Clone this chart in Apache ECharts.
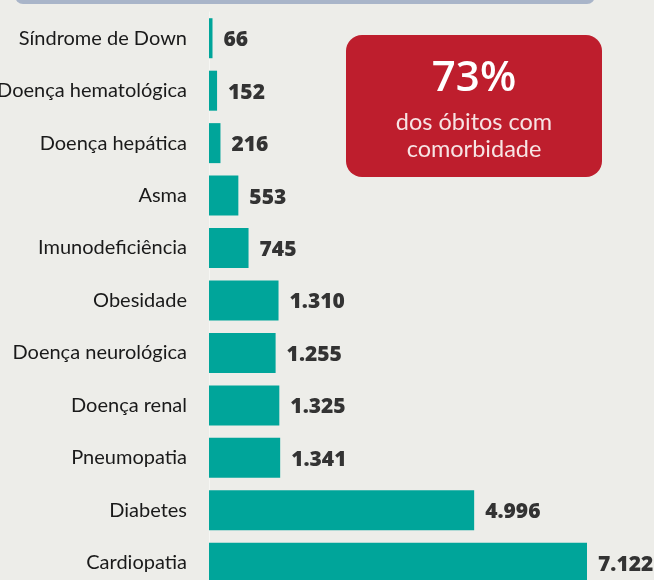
<!DOCTYPE html>
<html>
<head>
<meta charset="utf-8">
<script src="https://cdn.jsdelivr.net/npm/echarts@6/dist/echarts.min.js"></script>
<style>
  html, body { margin: 0; padding: 0; background: #edede9; }
  #chart { width: 654px; height: 580px; }
</style>
</head>
<body>
<div id="chart"></div>
<script>
// comorbidades nos óbitos, de cima para baixo
var categorias = ['Síndrome de Down', 'Doença hematológica', 'Doença hepática', 'Asma',
    'Imunodeficiência', 'Obesidade', 'Doença neurológica', 'Doença renal',
    'Pneumopatia', 'Diabetes', 'Cardiopatia'];
var obitos = [66, 152, 216, 553, 745, 1310, 1255, 1325, 1341, 4996, 7122];
var destaqueValor = '73%';
var destaqueTexto = 'dos óbitos com\ncomorbidade';

// formato brasileiro: 1.310
function formataNum(v) {
    return String(v).replace(/\B(?=(\d{3})+(?!\d))/g, '.');
}

var myChart = echarts.init(document.getElementById('chart'));

var option = {
    backgroundColor: '#edede9',
    animation: false,
    grid: {
        left: 209,
        top: 12,
        width: 378,
        height: 577,
        outerBoundsMode: 'none'
    },
    xAxis: {
        type: 'value',
        min: 0,
        max: 7122,
        show: false
    },
    yAxis: {
        type: 'category',
        inverse: true,
        data: categorias,
        axisLine: { show: true, lineStyle: { color: '#f6f6f3', width: 1 } },
        axisTick: { show: false },
        axisLabel: {
            margin: 22,
            color: '#1a1a1a',
            fontSize: 20,
            padding: [3, 0, 0, 0],
            fontFamily: 'Lato, "Open Sans", sans-serif'
        }
    },
    series: [
        {
            type: 'bar',
            data: obitos,
            barWidth: 40,
            itemStyle: { color: '#00a59a' },
            label: {
                show: true,
                position: 'right',
                distance: 11,
                offset: [0, 2],
                color: '#333333',
                fontSize: 21,
                fontWeight: 800,
                fontFamily: '"Open Sans", sans-serif',
                formatter: function (p) { return formataNum(p.value); }
            }
        }
    ],
    graphic: [
        {
            // faixa azul no topo
            type: 'rect',
            shape: { x: 15, y: -20, width: 580, height: 24, r: 8 },
            style: { fill: '#a9b5c9' }
        },
        {
            type: 'rect',
            shape: { x: 346, y: 35, width: 256, height: 142, r: 16 },
            style: { fill: '#be1e2d' }
        },
        {
            type: 'text',
            x: 474, y: 79,
            style: {
                text: destaqueValor,
                fill: '#ffffff',
                font: '600 42px "Open Sans", sans-serif',
                align: 'center',
                verticalAlign: 'middle'
            }
        },
        {
            type: 'text',
            x: 474, y: 136,
            style: {
                text: destaqueTexto,
                fill: '#f7e4e4',
                font: '23.5px Lato, "Open Sans", sans-serif',
                lineHeight: 27,
                align: 'center',
                verticalAlign: 'middle'
            }
        }
    ]
};

myChart.setOption(option);
</script>
</body>
</html>
